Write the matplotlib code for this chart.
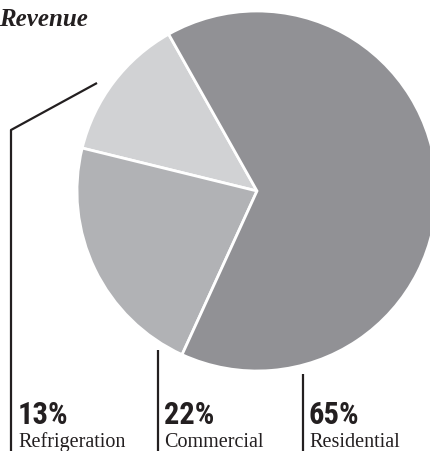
import matplotlib
matplotlib.use("Agg")
import matplotlib.pyplot as plt
from matplotlib import font_manager

# revenue share by segment
segments = ["Refrigeration", "Commercial", "Residential"]
shares = [13, 22, 65]
pcts = ["13%", "22%", "65%"]
colors = ["#d1d2d4", "#b1b2b5", "#919195"]

W, H = 431, 451
fig = plt.figure(figsize=(W / 100, H / 100), dpi=100)
ax = fig.add_axes([0, 0, 1, 1])

ax.pie(shares, colors=colors, startangle=119.4, counterclock=True,
       center=(257, H - 191), radius=180,
       wedgeprops=dict(edgecolor="white", linewidth=2))
ax.set_xlim(0, W)
ax.set_ylim(0, H)
ax.set_aspect("equal")
ax.axis("off")

# narrowest bold sans we can find
names = set(f.name for f in font_manager.fontManager.ttflist)
narrow = "DejaVu Sans"
for cand in ["Roboto Condensed", "Liberation Sans Narrow", "Open Sans Condensed", "Roboto"]:
    if cand in names:
        narrow = cand
        break

# leader lines, pixel coords measured from the top
lines = [
    [(97, 83), (11, 130), (11, 451)],
    [(158, 350), (158, 451)],
    [(303, 374), (303, 451)],
]
for pts in lines:
    xs = [p[0] for p in pts]
    ys = [H - p[1] for p in pts]
    ax.plot(xs, ys, color="#231f20", lw=1.6, solid_capstyle="butt")

text_x = [18, 164, 309]
for x, p, s in zip(text_x, pcts, segments):
    ax.text(x, H - 424, p, fontsize=22, fontweight="bold", family=narrow,
            color="#231f20", ha="left", va="baseline")
    ax.text(x, H - 447, s, fontsize=14.5, family="Liberation Serif",
            color="#231f20", ha="left", va="baseline")

ax.text(-1, H - 26, "Revenue", fontsize=18, fontweight="bold", style="italic",
        family="Liberation Serif", color="#231f20", ha="left", va="baseline")

fig.savefig("out.png", dpi=100)
